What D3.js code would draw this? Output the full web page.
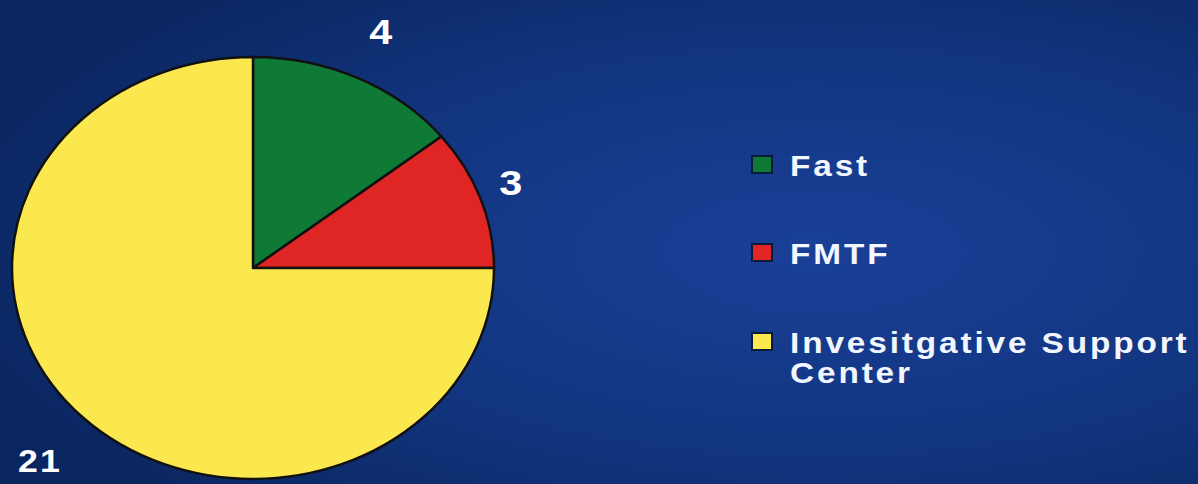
<!DOCTYPE html>
<html>
<head>
<meta charset="utf-8">
<script src="https://cdn.jsdelivr.net/npm/d3@7/dist/d3.min.js"></script>
<style>
  html, body { margin: 0; padding: 0; background: #0d2b6e; }
  svg { display: block; }
</style>
</head>
<body>
<script>
// data
var categories = ["Fast", "FMTF", "Invesitgative Support Center"];
var values = [4, 3, 21];
var colors = ["#0f7a36", "#e02525", "#fbe84f"];
// legend lines (long label wraps)
var legendLines = [["Fast"], ["FMTF"], ["Invesitgative Support", "Center"]];

var W = 1198, H = 484;
var stretch = 1.15; // the slide is stretched horizontally

var svg = d3.select("body").append("svg").attr("width", W).attr("height", H);

// background gradient
var defs = svg.append("defs");
var grad = defs.append("radialGradient").attr("id", "bg")
  .attr("cx", "68%").attr("cy", "52%").attr("r", "75%");
grad.append("stop").attr("offset", "0%").attr("stop-color", "#1a3f98");
grad.append("stop").attr("offset", "55%").attr("stop-color", "#12357f");
grad.append("stop").attr("offset", "100%").attr("stop-color", "#0a2660");
svg.append("rect").attr("width", W).attr("height", H).attr("fill", "url(#bg)");

// pie is drawn as a unit circle, then stretched into an ellipse
var cx = 253, cy = 268, rx = 241, ry = 211;

var pie = d3.pie().sort(null).value(function (d) { return d; });
var arcs = pie(values);
var arc = d3.arc().innerRadius(0).outerRadius(1);

var g = svg.append("g")
  .attr("transform", "translate(" + cx + "," + cy + ") scale(" + rx + "," + ry + ")");

g.selectAll("path")
  .data(arcs)
  .enter()
  .append("path")
  .attr("d", arc)
  .attr("fill", function (d, i) { return colors[i]; })
  .attr("stroke", "#111")
  .attr("stroke-width", 2.5)
  .attr("vector-effect", "non-scaling-stroke")
  .attr("stroke-linejoin", "round");

// value labels, placed outside the ellipse
var labelPos = [[382, 44], [512, 195], [40, 472]];
var labelSize = [36, 36, 31];
svg.selectAll("g.val")
  .data(arcs)
  .enter()
  .append("g")
  .attr("class", "val")
  .attr("transform", function (d, i) {
    return "translate(" + labelPos[i][0] + "," + labelPos[i][1] + ") scale(" + stretch + ",1)";
  })
  .append("text")
  .attr("text-anchor", "middle")
  .attr("fill", "#ffffff")
  .attr("font-family", "Liberation Sans, Arial, sans-serif")
  .attr("font-weight", "bold")
  .attr("font-size", function (d, i) { return labelSize[i]; })
  .attr("letter-spacing", 2)
  .text(function (d) { return d.data; });

// legend
var legendY = [176, 264, 353];
var legend = svg.selectAll("g.leg")
  .data(categories)
  .enter()
  .append("g")
  .attr("class", "leg")
  .attr("transform", function (d, i) { return "translate(752," + legendY[i] + ")"; });

legend.append("rect")
  .attr("x", 0).attr("y", -20)
  .attr("width", 20).attr("height", 17)
  .attr("fill", function (d, i) { return colors[i]; })
  .attr("stroke", "#0a1a3a")
  .attr("stroke-width", 2);

legend.each(function (d, i) {
  var t = d3.select(this).append("g")
    .attr("transform", "translate(38,0) scale(" + stretch + ",1)")
    .append("text")
    .attr("fill", "#f2f6ff")
    .attr("font-family", "Liberation Sans, Arial, sans-serif")
    .attr("font-weight", "bold")
    .attr("font-size", 29)
    .attr("letter-spacing", 2.5);
  legendLines[i].forEach(function (line, j) {
    t.append("tspan").attr("x", 0).attr("y", j * 30).text(line);
  });
});
</script>
</body>
</html>
